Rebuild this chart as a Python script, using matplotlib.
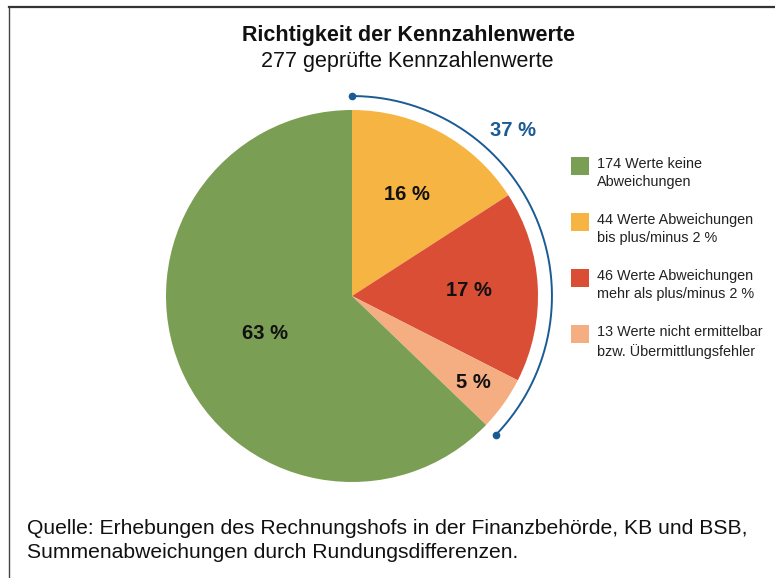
import matplotlib
matplotlib.use("Agg")
import matplotlib.pyplot as plt
from matplotlib.lines import Line2D
from matplotlib.patches import Rectangle
import numpy as np

plt.rcParams['font.family'] = ['Liberation Sans', 'DejaVu Sans']

# pie data, clockwise from the top
counts = [44, 46, 13, 174]
pct_labels = ["16 %", "17 %", "5 %", "63 %"]
colors = ["#F6B443", "#DB4E36", "#F5AE82", "#7A9E54"]
label_r = [0.62, 0.63, 0.80, 0.51]

# legend, in display order
legend_text = [
    "174 Werte keine\nAbweichungen",
    "44 Werte Abweichungen\nbis plus/minus 2 %",
    "46 Werte Abweichungen\nmehr als plus/minus 2 %",
    "13 Werte nicht ermittelbar\nbzw. Übermittlungsfehler",
]
legend_colors = ["#7A9E54", "#F6B443", "#DB4E36", "#F5AE82"]

arc_share = "37 %"
blue = "#1A5B94"

W, H = 775, 578
fig = plt.figure(figsize=(W / 100, H / 100), dpi=100)

# pie axes: centre (352, 296) px, radius 186 px
r_px = 186
cx, cy = 352, 296
side = 2.2 * r_px
ax = fig.add_axes([(cx - side / 2) / W, (H - cy - side / 2) / H, side / W, side / H])
wedges, _ = ax.pie(counts, colors=colors, startangle=90, counterclock=False,
                   radius=1, wedgeprops=dict(linewidth=0))
ax.set_xlim(-1.1, 1.1)
ax.set_ylim(-1.1, 1.1)
ax.set_aspect('equal')
ax.axis('off')

for w, lab, rr in zip(wedges, pct_labels, label_r):
    mid = np.deg2rad((w.theta1 + w.theta2) / 2)
    ax.text(rr * np.cos(mid), rr * np.sin(mid), lab, ha='center', va='center',
            fontsize=14.5, fontweight='bold', color='#111111')

# blue arc around the first three wedges
t_start = wedges[0].theta2
t_end = wedges[2].theta1
th = np.deg2rad(np.linspace(t_end, t_start, 200))
ra = 1.075
ax.plot(ra * np.cos(th), ra * np.sin(th), color=blue, lw=1.4, clip_on=False)
ax.plot(ra * np.cos(th[[0, -1]]), ra * np.sin(th[[0, -1]]), 'o', color=blue,
        ms=4.5, clip_on=False)
fig.text(513 / W, 1 - 130 / H, arc_share, ha='center', va='center',
         fontsize=14.5, fontweight='bold', color=blue)

# titles
fig.text(408 / W, 1 - 35 / H, "Richtigkeit der Kennzahlenwerte", ha='center',
         va='center', fontsize=15.5, fontweight='bold', color='#111111')
fig.text(407 / W, 1 - 61 / H, "277 geprüfte Kennzahlenwerte", ha='center',
         va='center', fontsize=15.5, color='#111111')

# legend
for i, (txt, col) in enumerate(zip(legend_text, legend_colors)):
    top = 157 + i * 56
    fig.add_artist(Rectangle((571 / W, 1 - (top + 18) / H), 18 / W, 18 / H,
                             transform=fig.transFigure, color=col, lw=0))
    fig.text(597 / W, 1 - top / H, txt, ha='left', va='top',
             fontsize=10.4, color='#222222', linespacing=1.4)

# footer
fig.text(27 / W, 1 - 519 / H,
         "Quelle: Erhebungen des Rechnungshofs in der Finanzbehörde, KB und BSB,\n"
         "Summenabweichungen durch Rundungsdifferenzen.",
         ha='left', va='top', fontsize=15.2, color='#111111', linespacing=1.32)

# frame lines (top and left)
fig.add_artist(Line2D([9 / W, 1], [1 - 6.5 / H, 1 - 6.5 / H], color='#333333',
                      lw=1.6, transform=fig.transFigure))
fig.add_artist(Line2D([9 / W, 9 / W], [0, 1 - 6.5 / H], color='#444444',
                      lw=1.0, transform=fig.transFigure))

fig.savefig("out.png", dpi=100, facecolor='white')
